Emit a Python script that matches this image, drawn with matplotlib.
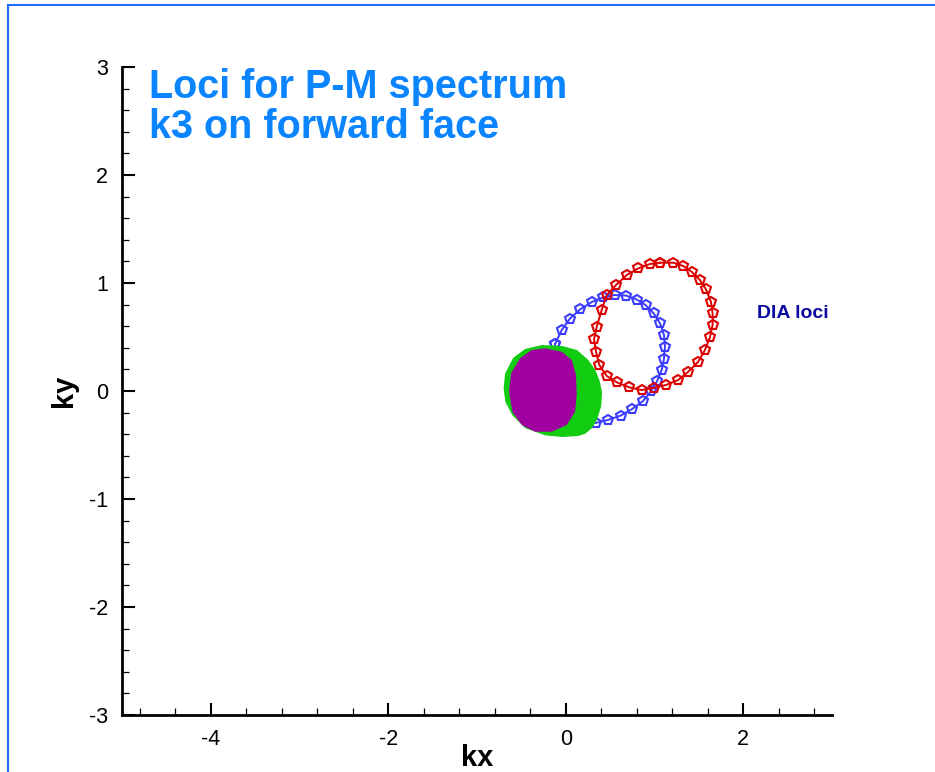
import matplotlib
matplotlib.use("Agg")
import matplotlib.pyplot as plt
from matplotlib.patches import Rectangle
from matplotlib.ticker import MultipleLocator

plt.rcParams['font.family'] = ['Liberation Sans', 'DejaVu Sans']
plt.rcParams['axes.unicode_minus'] = False

# DIA locus for k3 (red)
kx_red = [1.062, 1.212, 1.324, 1.419, 1.512, 1.580, 1.636, 1.655, 1.655, 1.625,
          1.569, 1.493, 1.381, 1.268, 1.130, 0.994, 0.856, 0.716, 0.574, 0.462,
          0.378, 0.341, 0.319, 0.349, 0.405, 0.462, 0.566, 0.687, 0.818, 0.949, 1.062]
ky_red = [1.188, 1.188, 1.157, 1.105, 1.028, 0.942, 0.827, 0.719, 0.611, 0.497,
          0.380, 0.271, 0.179, 0.102, 0.056, 0.030, 0.009, 0.034, 0.081, 0.139,
          0.241, 0.364, 0.479, 0.595, 0.750, 0.889, 0.981, 1.074, 1.136, 1.176, 1.188]

# DIA locus for k4 (blue); the tail runs under the spectrum blob
kx_blue = [-0.120, -0.045, 0.048, 0.161, 0.293, 0.423, 0.550, 0.679, 0.800, 0.899,
           0.991, 1.062, 1.107, 1.118, 1.107, 1.081, 1.030, 0.964, 0.870, 0.747,
           0.620, 0.471, 0.336, 0.198, 0.099, 0.015, -0.060, -0.110, -0.130, -0.120]
ky_blue = [0.435, 0.565, 0.671, 0.755, 0.824, 0.866, 0.889, 0.884, 0.847, 0.796,
           0.719, 0.627, 0.519, 0.410, 0.298, 0.194, 0.093, 0.000, -0.093, -0.167,
           -0.227, -0.269, -0.296, -0.296, -0.269, -0.236, -0.150, 0.000, 0.200, 0.435]

# outline of the P-M spectrum region (green)
kx_green = [0.127, 0.251, 0.330, 0.380, 0.409, 0.400, 0.350, 0.296, 0.220, 0.139,
            -0.042, -0.233, -0.458, -0.604, -0.680, -0.700, -0.684, -0.593, -0.458,
            -0.267, -0.042]
ky_green = [0.380, 0.290, 0.200, 0.100, -0.009, -0.140, -0.270, -0.343, -0.395, -0.417,
            -0.426, -0.410, -0.343, -0.222, -0.100, 0.020, 0.160, 0.306, 0.389,
            0.426, 0.417]

# outline of the k3-on-forward-face region (purple)
kx_purple = [-0.233, -0.045, 0.068, 0.116, 0.124, 0.105, 0.011, -0.158, -0.346, -0.495,
             -0.601, -0.639, -0.616, -0.515, -0.383]
ky_purple = [0.395, 0.364, 0.287, 0.148, -0.037, -0.192, -0.315, -0.377, -0.377, -0.315,
             -0.192, -0.006, 0.164, 0.303, 0.380]

title = "Loci for P-M spectrum\nk3 on forward face"

fig = plt.figure(figsize=(9.35, 7.72), dpi=100)
ax = fig.add_axes([0.1305, 0.0738, 0.7593, 0.8394])

ax.plot(kx_blue, ky_blue, color='#3c3cff', lw=1.4, marker='p', ms=7.5,
        mfc='none', mew=1.5, zorder=2)
ax.fill(kx_green, ky_green, color='#11cc11', lw=0, zorder=3)
ax.fill(kx_purple, ky_purple, color='#a000a0', lw=0, zorder=4)
ax.plot(kx_red, ky_red, color='#dd0000', lw=1.4, marker='p', ms=7.5,
        mfc='none', mew=1.5, zorder=5)

ax.text(2.15, 0.72, "DIA loci", color='#0a0aa0', fontsize=14,
        fontweight='bold', va='center', ha='left')
ax.text(-4.70, 2.99, title, color='#0a84ff', fontsize=28.5,
        fontweight='bold', va='top', ha='left', linespacing=1.08)

ax.set_xlim(-5, 3)
ax.set_ylim(-3, 3)
ax.xaxis.set_major_locator(MultipleLocator(2))
ax.xaxis.set_minor_locator(MultipleLocator(0.4))
ax.yaxis.set_major_locator(MultipleLocator(1))
ax.yaxis.set_minor_locator(MultipleLocator(0.2))

for side in ('top', 'right'):
    ax.spines[side].set_visible(False)
for side in ('left', 'bottom'):
    ax.spines[side].set_linewidth(2.0)

ax.tick_params(which='major', direction='in', length=9, width=1.5,
               labelsize=15.5, pad=10)
ax.tick_params(which='minor', direction='in', length=5, width=0.9)

ax.set_xlabel("kx", fontsize=21, fontweight='bold', labelpad=-4)
ax.set_ylabel("ky", fontsize=21, fontweight='bold', labelpad=8)

# frame around the plot page
fig.add_artist(Rectangle((8 / 935, -0.1), 1.2, 1.1 - 5 / 772,
                         transform=fig.transFigure, fill=False,
                         edgecolor='#1e6fff', lw=1.5))

fig.savefig("out.png", dpi=100)
